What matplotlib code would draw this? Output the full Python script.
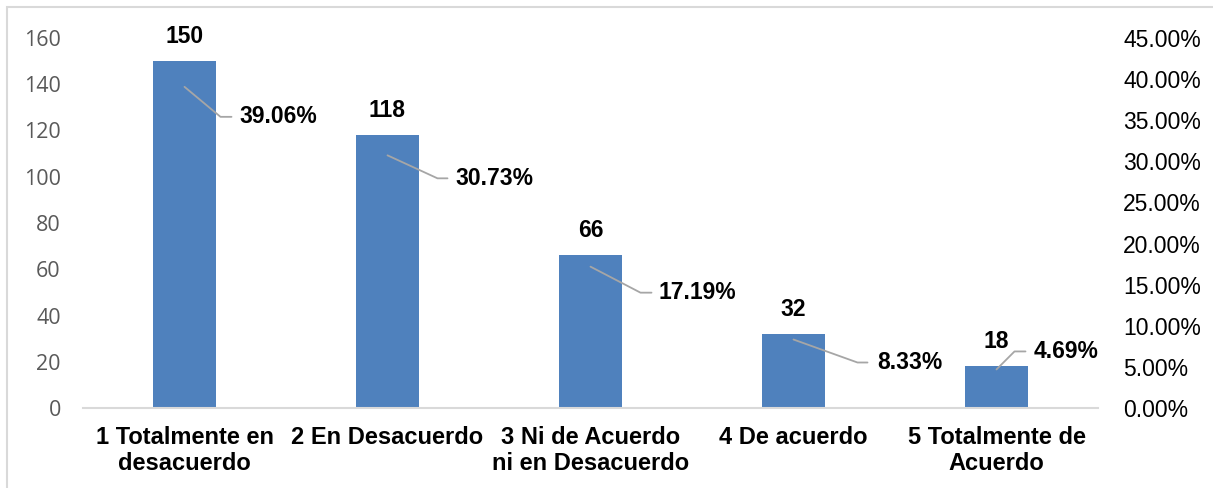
import math
import matplotlib.pyplot as plt
from matplotlib.patches import Rectangle

# data
categories = ["1 Totalmente en\ndesacuerdo", "2 En Desacuerdo", "3 Ni de Acuerdo\nni en Desacuerdo",
              "4 De acuerdo", "5 Totalmente de\nAcuerdo"]
counts = [150, 118, 66, 32, 18]
percents = [39.06, 30.73, 17.19, 8.33, 4.69]
left_ticks = [0, 20, 40, 60, 80, 100, 120, 140, 160]
right_ticks = [0, 5, 10, 15, 20, 25, 30, 35, 40, 45]

# leader line offsets in pixels: elbow, end of horizontal part, text start
elbows = [(36, -30), (50, -23), (50, -26), (64, -23), (18, 18)]
ends = [47, 60, 61, 74, 29]
text_dx = [55, 68, 68, 84, 37]

plt.rcParams['font.family'] = ['Liberation Sans', 'DejaVu Sans']
bar_color = '#4F81BD'
lead_color = '#A6A6A6'

fig = plt.figure(figsize=(12.13, 4.88), dpi=100)
fig.patches.append(Rectangle((7/1213, -0.01), 1.0, 1 - 7/488 + 0.01, transform=fig.transFigure,
                             fill=False, edgecolor='#D9D9D9', linewidth=1.5))
ax = fig.add_axes([83/1213, 1 - 408/488, (1098 - 83)/1213, 370/488])
x = list(range(len(categories)))
ax.bar(x, counts, width=0.315, color=bar_color, zorder=2)
ax.set_xlim(-0.5, len(categories) - 0.5)
ax.set_ylim(0, 160)
ax.set_yticks(left_ticks)
ax.set_yticklabels([str(t) for t in left_ticks], family='Open Sans', fontsize=15.5, color='#595959')
ax.set_xticks(x)
ax.set_xticklabels(categories, fontsize=17, fontweight='bold', linespacing=1.15)
ax.tick_params(axis='both', length=0)
ax.tick_params(axis='x', pad=13)
ax.tick_params(axis='y', pad=16)
for s in ['top', 'right', 'left']:
    ax.spines[s].set_visible(False)
ax.spines['bottom'].set_color('#D9D9D9')
ax.spines['bottom'].set_linewidth(1.5)

for i, c in enumerate(counts):
    ax.annotate(str(c), xy=(i, c), xytext=(0, 25), textcoords='offset pixels',
                ha='center', va='center', fontsize=16.5, fontweight='bold')

ax2 = ax.twinx()
ax2.set_ylim(0, 45)
ax2.set_yticks(right_ticks)
ax2.set_yticklabels(['%.2f%%' % t for t in right_ticks], fontsize=16.5)
ax2.tick_params(axis='y', length=0, pad=18)
for s in ['top', 'right', 'left', 'bottom']:
    ax2.spines[s].set_visible(False)

for i, p in enumerate(percents):
    ex, ey = elbows[i]
    ang = math.degrees(math.atan2(ey, ex))
    ax2.annotate('', xy=(i, p), xytext=(ends[i], ey), textcoords='offset pixels',
                 arrowprops=dict(arrowstyle='-', color=lead_color, lw=1.3, shrinkA=0, shrinkB=0,
                                 connectionstyle='angle,angleA=0,angleB=%f,rad=0' % ang),
                 annotation_clip=False)
    ax2.annotate('%.2f%%' % p, xy=(i, p), xytext=(text_dx[i], ey), textcoords='offset pixels',
                 ha='left', va='center', fontsize=16.5, fontweight='bold')

fig.savefig('out.png', dpi=100)
